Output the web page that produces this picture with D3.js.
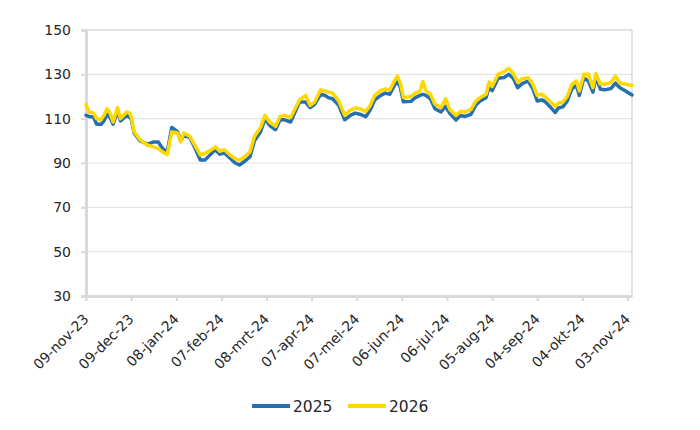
<!DOCTYPE html>
<html>
<head>
<meta charset="utf-8">
<script src="https://cdn.jsdelivr.net/npm/d3@7"></script>
<style>
  html, body { margin: 0; padding: 0; background: #fff; }
  svg { display: block; }
  text { font-family: "DejaVu Sans", sans-serif; fill: #262626; }
</style>
</head>
<body>
<div id="chart"></div>
<script>
// ---- Data (days since 09-nov-23) ----
const startDate = "09-nov-23";
const dayOffset = [0,2,5,7,10,12,14,16,18,21,23,27,29,30,32,36,41,45,48,51,54,57,61,63,65,69,73,76,79,83,86,89,92,96,99,102,106,109,112,116,119,122,126,129,132,136,139,142,146,149,152,156,159,161,164,168,172,176,179,182,186,189,192,196,199,202,205,207,209,211,216,219,222,224,226,229,232,236,239,242,246,249,252,256,259,262,266,268,270,274,278,281,284,287,290,294,297,300,303,305,309,312,314,317,320,323,326,328,331,334,337,339,342,345,349,352,355,359,363];
const series2025 = [111.5,111,110.8,107.5,107.5,109,112,110.5,107.5,113.5,109,111.5,110.5,110,103.5,100,98.5,99.5,99.5,96.5,95,106,104,100,102.5,101.5,96,91.3,91.3,94,96,94,94.5,92,90.1,89.1,91,92.8,100,104,110,107,105,109.5,109.5,108.5,113,117.5,117.5,115,116.5,121,120.5,119.5,119,116,109.5,111.6,112.5,112,110.9,114,118.5,120.5,121.5,121,125,127,124,117.6,117.8,119.5,120.5,121,120.5,119,114.5,113,115.5,112.3,109.4,111.5,111,112,116,118,119.5,124.4,122.6,128.2,128.6,130,128.3,124,125.8,127,123.6,118,118.5,117.8,115,112.8,114.8,115.3,118,123.4,125,120.5,128.4,127,122,128.8,123.3,123,123.6,126,124,122.4,120.7];
const series2026 = [116.5,113,112.5,110,109.5,111.5,114.5,112.5,108.5,115,110,113,112.5,111,104,100.5,98,97.3,96.5,95,93.8,104,103.5,99.5,103.5,102,97.3,93.6,94.3,95.8,97.3,95.3,96,93.5,92,91.3,93,95,102,106,111.5,108.5,106.5,111,111.5,110.5,114.5,118.5,120.5,116,117.5,123,122.5,122,121.5,118,111.5,114,114.8,114.5,113.2,116,120.6,122.6,123.4,123,127,129.2,126,119.5,120,121.5,122.5,126.7,122.5,121,116.5,115,119,114,111.5,113.3,113,114.2,117.8,119.5,121,126.5,124.5,130,131.2,132.7,130.5,126.5,128,128.5,125.7,120.5,121,120,117.5,115.5,117,117.5,120,125.5,127,122.5,130,130,124,130.3,125.5,125.5,126.3,129.2,126,125.5,125];
const seriesNames = ["2025", "2026"];
const seriesColors = ["#2770B0", "#FFD800"];
const yTicks = [30, 50, 70, 90, 110, 130, 150];
const xTickDays = [0,30,60,90,120,150,180,210,240,270,300,330,360];
const xTickLabels = ["09-nov-23","09-dec-23","08-jan-24","07-feb-24","08-mrt-24","07-apr-24","07-mei-24","06-jun-24","06-jul-24","05-aug-24","04-sep-24","04-okt-24","03-nov-24"];

// ---- Layout ----
const W = 700, H = 430;
const L = 86, R = 632, T = 30, B = 296;

const svg = d3.select("#chart").append("svg").attr("width", W).attr("height", H);

const x = d3.scaleLinear().domain([0, 363]).range([L, R]);
const y = d3.scaleLinear().domain([30, 150]).range([B, T]);

// gridlines
svg.append("g").selectAll("line").data(yTicks.filter(v => v > 30 && v < 150)).join("line")
  .attr("x1", L).attr("x2", R).attr("y1", d => y(d)).attr("y2", d => y(d))
  .attr("stroke", "#E4E4E4").attr("stroke-width", 1.2);

// plot border top/right
svg.append("line").attr("x1", L).attr("x2", R).attr("y1", T).attr("y2", T).attr("stroke", "#D9D9D9").attr("stroke-width", 1.5);
svg.append("line").attr("x1", R).attr("x2", R).attr("y1", T).attr("y2", B).attr("stroke", "#D9D9D9").attr("stroke-width", 1.5);

// Y axis
const yAxis = svg.append("g").attr("transform", `translate(${L},0)`)
  .call(d3.axisLeft(y).tickValues(yTicks).tickSize(5).tickPadding(10).tickFormat(d3.format("d")));
yAxis.select(".domain").attr("stroke", "#D9D9D9").attr("stroke-width", 3);
yAxis.selectAll(".tick line").attr("stroke", "#D9D9D9").attr("stroke-width", 2);
yAxis.selectAll("text").attr("font-size", 14).attr("fill", "#262626")
  .style("font-family", '"DejaVu Sans", sans-serif');

// X axis
const xAxis = svg.append("g").attr("transform", `translate(0,${B})`)
  .call(d3.axisBottom(x).tickValues(xTickDays).tickSize(5).tickSizeOuter(0)
    .tickFormat((d, i) => xTickLabels[i]));
xAxis.select(".domain").attr("stroke", "#D9D9D9").attr("stroke-width", 3);
xAxis.selectAll(".tick line").attr("stroke", "#D9D9D9").attr("stroke-width", 2);
xAxis.selectAll("text")
  .attr("font-size", 14).attr("fill", "#262626")
  .style("font-family", '"DejaVu Sans", sans-serif')
  .attr("text-anchor", "end")
  .attr("dy", null).attr("y", 0).attr("x", 0)
  .attr("transform", "translate(3,24) rotate(-45)");

// Lines
const seriesData = [series2025, series2026];
const line = d3.line().x((d, i) => x(dayOffset[i])).y(d => y(d)).curve(d3.curveLinear);
svg.append("g").selectAll("path").data(seriesData).join("path")
  .attr("d", d => line(d))
  .attr("fill", "none")
  .attr("stroke", (d, i) => seriesColors[i])
  .attr("stroke-width", 3.5)
  .attr("stroke-linejoin", "round")
  .attr("stroke-linecap", "round");

// Legend
const legendX = [252, 348];
const lg = svg.append("g");
seriesNames.forEach((name, i) => {
  lg.append("line").attr("x1", legendX[i]).attr("x2", legendX[i] + 38)
    .attr("y1", 406).attr("y2", 406)
    .attr("stroke", seriesColors[i]).attr("stroke-width", 4);
  lg.append("text").attr("x", legendX[i] + 41).attr("y", 412)
    .attr("font-size", 15.5).text(name);
});
</script>
</body>
</html>
